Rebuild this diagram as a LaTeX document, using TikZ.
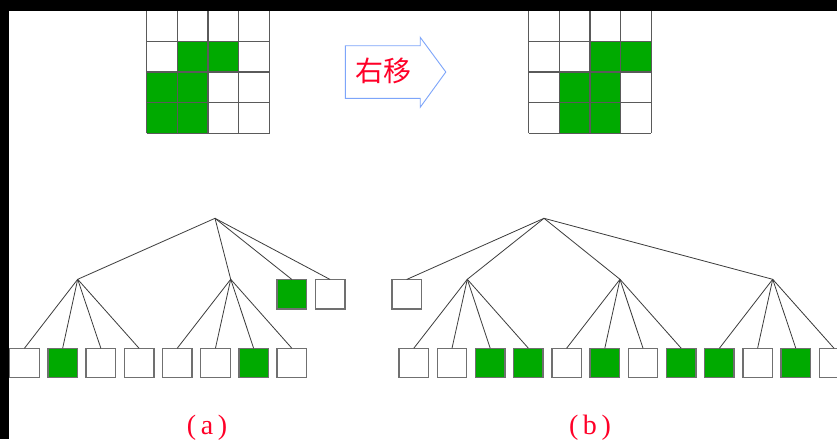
\documentclass[tikz,border=0pt]{standalone}
\usepackage{fontspec}
\setmainfont{Liberation Serif}
\newfontfamily\cjk{Noto Sans CJK SC}
\definecolor{leafgreen}{RGB}{0,170,0}
\definecolor{boxgray}{RGB}{112,112,112}
\definecolor{linegray}{RGB}{60,60,60}
\definecolor{arrowblue}{RGB}{125,165,250}
\definecolor{labelred}{RGB}{255,0,40}
\tikzset{
  leafbox/.style={draw=boxgray, line width=1.4pt, fill=white, minimum size=29.5pt, inner sep=0pt, outer sep=0pt},
  greenbox/.style={leafbox, fill=leafgreen},
  edge/.style={draw=linegray, line width=0.8pt},
  gridline/.style={draw=boxgray!80!black, line width=1.3pt},
  caption/.style={text=labelred, font=\fontsize{28}{30}\selectfont, anchor=base}
}
\begin{document}
\begin{tikzpicture}[x=1pt,y=-1pt]
\useasboundingbox (0,0) rectangle (837,439);
\clip (0,0) rectangle (837,439);
\fill[white] (0,0) rectangle (837,439);

% ---------- left grid ----------
\begin{scope}[shift={(146.7,10.7)}]
  \foreach \r/\c in {1/1,1/2,2/0,2/1,3/0,3/1}
    \fill[leafgreen] (\c*30.7,\r*30.65) rectangle ++(30.7,30.65);
  \foreach \i in {0,...,4} {
    \draw[gridline] (\i*30.7,0) -- (\i*30.7,122.6);
    \draw[gridline] (0,\i*30.65) -- (122.8,\i*30.65);
  }
\end{scope}

% ---------- right grid ----------
\begin{scope}[shift={(528.6,10.7)}]
  \foreach \r/\c in {1/2,1/3,2/1,2/2,3/1,3/2}
    \fill[leafgreen] (\c*30.7,\r*30.65) rectangle ++(30.7,30.65);
  \foreach \i in {0,...,4} {
    \draw[gridline] (\i*30.7,0) -- (\i*30.7,122.6);
    \draw[gridline] (0,\i*30.65) -- (122.8,\i*30.65);
  }
\end{scope}

% ---------- arrow ----------
\draw[arrowblue, line width=0.9pt, fill=white]
  (345.4,45.7) -- (420.2,45.7) -- (420.2,37.3) -- (445.8,72) --
  (420.2,107.3) -- (420.2,98.3) -- (345.4,98.3) -- cycle;
\node[text=labelred, font=\cjk\fontsize{28}{30}\selectfont, inner sep=0pt] (shift) at (383,71) {右移};

% ---------- tree (a) ----------
\coordinate (ra) at (215,218.3);
\coordinate (na1) at (77.7,279.3);
\coordinate (na2) at (230.7,279.3);
\foreach \k/\s in {0/leafbox,1/greenbox,2/leafbox,3/leafbox,4/leafbox,5/leafbox,6/greenbox,7/leafbox}
  \node[\s] (a\k) at ({24.45+38.2*\k},363) {};
\node[greenbox] (ag) at (291.85,294.2) {};
\node[leafbox] (aw) at (330.05,294.2) {};
\foreach \t in {na1,na2,ag.north,aw.north}
  \draw[edge] (ra) -- (\t);
\foreach \k in {0,1,2,3}
  \draw[edge] (na1) -- (a\k.north);
\foreach \k in {4,5,6,7}
  \draw[edge] (na2) -- (a\k.north);
\node[caption] (capa) at (207,434) {(\,a\,)};

% ---------- tree (b) ----------
\coordinate (rb) at (544,218.3);
\coordinate (nb1) at (467.3,279.3);
\coordinate (nb2) at (620,279.3);
\coordinate (nb3) at (772.7,279.3);
\foreach \k/\s in {0/leafbox,1/leafbox,2/greenbox,3/greenbox,4/leafbox,5/greenbox,6/leafbox,7/greenbox,8/greenbox,9/leafbox,10/greenbox,11/leafbox}
  \node[\s] (b\k) at ({413.8+38.2*\k},363) {};
\node[leafbox] (bw) at (406.7,294.2) {};
\foreach \t in {bw.north,nb1,nb2,nb3}
  \draw[edge] (rb) -- (\t);
\foreach \k in {0,1,2,3}
  \draw[edge] (nb1) -- (b\k.north);
\foreach \k in {4,5,6,7}
  \draw[edge] (nb2) -- (b\k.north);
\foreach \k in {8,9,10,11}
  \draw[edge] (nb3) -- (b\k.north);
\node[caption] (capb) at (590,434) {(\,b\,)};

% ---------- black frame bands ----------
\fill[black] (0,0) rectangle (837,10.7);
\fill[black] (0,0) rectangle (8.7,439);
\end{tikzpicture}
\end{document}
